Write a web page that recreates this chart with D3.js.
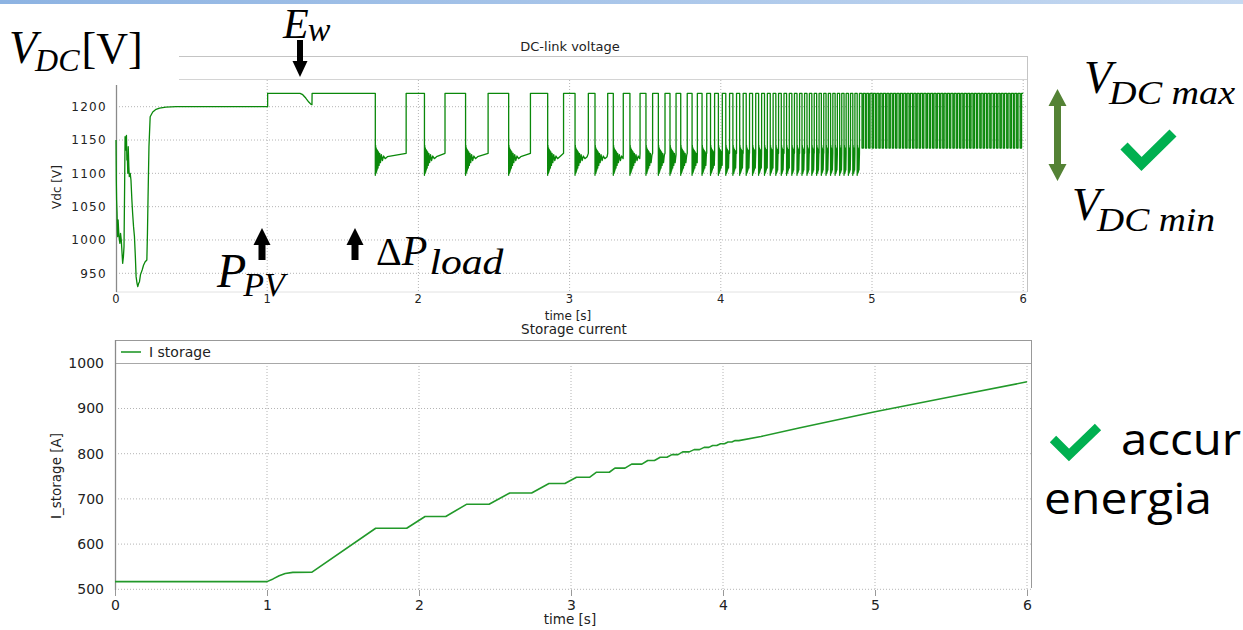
<!DOCTYPE html>
<html>
<head>
<meta charset="utf-8">
<script src="https://cdnjs.cloudflare.com/ajax/libs/d3/7.8.5/d3.min.js"></script>
<style>
body{margin:0;background:#fff;overflow:hidden}
svg{display:block}
</style>
</head>
<body>
<div id="slide"></div>
<script>
// tick values
var timeTicks = [0,1,2,3,4,5,6]
var vdcTicks = [950,1000,1050,1100,1150,1200]
var currentTicks = [500,600,700,800,900,1000]

// DC-link voltage, start-up and E_w sag, [t s, V]
var vdcStart = [[0,1150],[0.002,1090],[0.004,1060],[0.007,1040],[0.009,1015],[0.011,1005],[0.014,1030],[0.018,1012],[0.022,1000],[0.026,995],[0.030,1010],[0.035,1000],[0.040,980],[0.044,965],[0.049,975],[0.053,990],[0.057,1080],[0.060,1155],[0.064,1135],[0.069,1157],[0.072,1120],[0.075,1125],[0.078,1100],[0.081,1140],[0.085,1110],[0.088,1095],[0.094,1100],[0.099,1090],[0.105,1060],[0.110,1040],[0.116,1020],[0.122,1005],[0.128,975],[0.133,945],[0.139,935],[0.144,930],[0.150,935],[0.155,937],[0.162,948],[0.173,955],[0.182,962],[0.192,967],[0.204,970],[0.208,1010],[0.212,1065],[0.218,1140],[0.226,1185],[0.243,1192],[0.265,1196],[0.288,1198],[0.330,1199.5],[0.398,1200],[1.003,1200],[1.003,1220],[1.217,1220],[1.235,1218],[1.255,1213],[1.275,1207],[1.290,1203.5],[1.296,1203],[1.297,1220]]
// start / end of each low-voltage interval (s)
var lowStarts = [1.715,2.040,2.312,2.597,2.855,3.036,3.168,3.289,3.399,3.505,3.587,3.664,3.735,3.810,3.876,3.932,3.984,4.033,4.080,4.125,4.168,4.210,4.250,4.289,4.327,4.364,4.400,4.435,4.470,4.504,4.537,4.570,4.602,4.634,4.665,4.696,4.726,4.756,4.786,4.815,4.844,4.873,4.902]
var lowEnds = [1.919,2.176,2.461,2.741,2.960,3.124,3.252,3.355,3.466,3.549,3.631,3.704,3.778,3.845,3.907,3.959,4.010,4.058,4.104,4.148,4.190,4.231,4.270,4.308,4.346,4.382,4.418,4.453,4.487,4.521,4.554,4.586,4.618,4.650,4.681,4.711,4.741,4.771,4.800,4.829,4.858,4.887,4.917]
// ringing after each drop, [dt s, V]
var dipShape = [[0,1097],[0.002,1142],[0.004,1100],[0.006,1138],[0.008,1102],[0.010,1136],[0.012,1105],[0.015,1134],[0.018,1108],[0.021,1132],[0.025,1112],[0.029,1130],[0.034,1116],[0.040,1128],[0.047,1119],[0.055,1126],[0.065,1122],[0.080,1125]]
var vdcHigh = 1220
var lowSettle = 1130
// after ~4.93 s the lows stay at ~1138 V
var lateLowStarts = [4.934,4.956,4.978,5.001,5.023,5.045,5.067,5.090,5.112,5.134,5.156,5.179,5.201,5.223,5.245,5.268,5.290,5.312,5.334,5.357,5.379,5.401,5.423,5.446,5.468,5.490,5.512,5.535,5.557,5.579,5.601,5.624,5.646,5.668,5.690,5.713,5.735,5.757,5.779,5.802,5.824,5.846,5.868,5.891,5.913,5.935,5.957,5.980]
var lateLowLevel = 1138
var lateLowWidth = 0.009

// storage current [t s, A]
var currentStart = [[0,517],[1.0,517],[1.04,523],[1.08,530],[1.12,535],[1.17,537.5],[1.296,538]]
// current level held during the first low intervals
var currentLevels = [635,661,688,713,734,748,759,768,777,785,792,798,804,809,814,818,822,826,829]
var currentTail = [[4.25,838],[4.5,857],[5.0,893],[5.5,926],[6.0,959]]

var svg = d3.select('#slide').append('svg').attr('width',1243).attr('height',630)

class scope {
  constructor(svg, o){
    this.svg = svg
    this.o = o
    this.x = d3.scaleLinear().domain([0,6]).range([o.x0, o.x6])
    this.y = d3.scaleLinear().domain(o.ydom).range(o.yrange)
  }
  grid(){
    var g = this.svg.append('g')
    var o = this.o
    g.selectAll('.hg').data(o.yticks).enter().append('line')
          .attr('x1',o.left).attr('x2',o.right)
          .attr('y1',d => this.y(d)).attr('y2',d => this.y(d))
          .attr('stroke','#b4b4b4').attr('stroke-dasharray','1,2')
    g.selectAll('.vg').data(timeTicks.slice(1)).enter().append('line')
          .attr('x1',d => this.x(d)).attr('x2',d => this.x(d))
          .attr('y1',o.gridTop).attr('y2',o.bottom)
          .attr('stroke','#b4b4b4').attr('stroke-dasharray','1,2')
  }
  axes(){
    var o = this.o
    var ya = this.svg.append('g').attr('transform','translate('+o.left+',0)')
          .call(d3.axisLeft(this.y).tickValues(o.yticks).tickFormat(d3.format('d')).tickSize(0).tickPadding(o.ypad))
    ya.select('.domain').remove()
    ya.selectAll('text').attr('font-family','DejaVu Sans').attr('font-size',o.fs)
          .attr('letter-spacing',o.ls).attr('fill','#222')
    var xa = this.svg.append('g').attr('transform','translate(0,'+o.bottom+')')
          .call(d3.axisBottom(this.x).tickValues(timeTicks).tickFormat(d3.format('d')).tickSize(o.xtick).tickPadding(o.xpad))
    xa.select('.domain').remove()
    xa.selectAll('line').attr('stroke','#999')
    xa.selectAll('text').attr('font-family','DejaVu Sans').attr('font-size',o.xfs)
          .attr('letter-spacing',o.ls).attr('fill','#222')
  }
  line(pts, color, w){
    var path = d3.line().x(d => this.x(d[0])).y(d => this.y(d[1]))
    this.svg.append('path').datum(pts)
          .attr('d',path).attr('fill','none')
          .attr('stroke',color).attr('stroke-width',w).attr('stroke-linejoin','round')
  }
}

// top bar
var grad = svg.append('defs').append('linearGradient').attr('id','bar')
grad.append('stop').attr('offset','0%').attr('stop-color','#8db3e2')
grad.append('stop').attr('offset','100%').attr('stop-color','#c6d9f1')
svg.append('rect').attr('x',0).attr('y',0).attr('width',1243).attr('height',4).attr('fill','url(#bar)')

// ---------- DC-link voltage ----------
var top1 = new scope(svg, {x0:116, x6:1023.2, ydom:[950,1200], yrange:[273.3,106.7],
    left:116, right:1027, gridTop:80, bottom:292, yticks:vdcTicks,
    fs:'12px', xfs:'11.5px', ls:'1.3px', ypad:9, xtick:0, xpad:3})
top1.grid()
svg.append('line').attr('x1',179).attr('x2',1027).attr('y1',56.5).attr('y2',56.5).attr('stroke','#c4c4c4')
svg.append('line').attr('x1',179).attr('x2',1027).attr('y1',79.5).attr('y2',79.5).attr('stroke','#d4d4d4')
svg.append('line').attr('x1',1027.5).attr('x2',1027.5).attr('y1',56).attr('y2',292).attr('stroke','#c4c4c4')
svg.append('line').attr('x1',116).attr('x2',1027).attr('y1',292).attr('y2',292).attr('stroke','#e2e2e2')
svg.append('line').attr('x1',116.5).attr('x2',116.5).attr('y1',85).attr('y2',292).attr('stroke','#8a8a8a').attr('stroke-width',1.3)
top1.axes()

var vdc = vdcStart.slice()
lowStarts.forEach((s,k) => {
  vdc.push([s, vdcHigh])
  dipShape.forEach(d => { if (d[0] < lowEnds[k]-s) vdc.push([s+d[0], d[1]]) })
  vdc.push([lowEnds[k], lowSettle])
  vdc.push([lowEnds[k], vdcHigh])
})
lateLowStarts.forEach(s => {
  vdc.push([s, vdcHigh],[s, lateLowLevel],[s+lateLowWidth, lateLowLevel],[s+lateLowWidth, vdcHigh])
})
vdc.push([6.0, vdcHigh])
top1.line(vdc, '#0a880a', 1.3)

svg.append('text').attr('x',570).attr('y',51).attr('text-anchor','middle')
      .attr('font-family','DejaVu Sans').attr('font-size','13px').attr('fill','#222').text('DC-link voltage')
svg.append('text').attr('x',568).attr('y',320).attr('text-anchor','middle')
      .attr('font-family','DejaVu Sans').attr('font-size','12px').attr('fill','#222').text('time [s]')
svg.append('text').attr('transform','translate(61,187) rotate(-90)').attr('text-anchor','middle')
      .attr('font-family','DejaVu Sans').attr('font-size','12px').attr('fill','#222').text('Vdc [V]')

// ---------- Storage current ----------
var bot = new scope(svg, {x0:115, x6:1027, ydom:[500,1000], yrange:[589.3,363.3],
    left:115, right:1031, gridTop:363, bottom:590, yticks:currentTicks.slice(0,5),
    fs:'14px', xfs:'14px', ls:'0px', ypad:11, xtick:6, xpad:4})
bot.grid()
svg.append('line').attr('x1',115).attr('x2',1032).attr('y1',340.5).attr('y2',340.5).attr('stroke','#999')
svg.append('line').attr('x1',115).attr('x2',1031).attr('y1',363.5).attr('y2',363.5).attr('stroke','#a8a8a8')
svg.append('line').attr('x1',1031.5).attr('x2',1031.5).attr('y1',340).attr('y2',588).attr('stroke','#999')
svg.append('line').attr('x1',115.5).attr('x2',115.5).attr('y1',340).attr('y2',590).attr('stroke','#8a8a8a').attr('stroke-width',1.3)
bot.axes()
svg.append('text').attr('x',104).attr('y',bot.y(1000)+5).attr('text-anchor','end')
      .attr('font-family','DejaVu Sans').attr('font-size','14px').attr('fill','#222').text(currentTicks[5])

var cur = currentStart.slice()
currentLevels.forEach((lv,k) => { cur.push([lowStarts[k], lv],[lowEnds[k], lv]) })
currentTail.forEach(d => cur.push(d))
bot.line(cur, '#22992a', 1.6)

svg.append('line').attr('x1',121).attr('x2',141).attr('y1',352).attr('y2',352).attr('stroke','#22992a').attr('stroke-width',1.6)
svg.append('text').attr('x',149).attr('y',357).attr('font-family','DejaVu Sans').attr('font-size','14px')
      .attr('fill','#222').text('I storage')
svg.append('text').attr('x',574).attr('y',334).attr('text-anchor','middle')
      .attr('font-family','DejaVu Sans').attr('font-size','13.5px').attr('fill','#222').text('Storage current')
svg.append('text').attr('x',570).attr('y',624).attr('text-anchor','middle')
      .attr('font-family','DejaVu Sans').attr('font-size','13.5px').attr('fill','#222').text('time [s]')
svg.append('text').attr('transform','translate(61,476) rotate(-90)').attr('text-anchor','middle')
      .attr('font-family','DejaVu Sans').attr('font-size','13.5px').attr('fill','#222').text('I_storage [A]')

// ---------- annotations ----------
var serif = 'Liberation Serif'
function mathText(x, y, parts){
  var t = svg.append('text').attr('x',x).attr('y',y).attr('font-family',serif).attr('fill','#000')
  parts.forEach(p => {
    var s = t.append('tspan').attr('font-size',p.fs+'px').attr('font-style',p.it ? 'italic' : 'normal')
          .attr('dy',p.dy || 0).attr('dx',p.dx || 0).text(p.s)
    if (p.len) s.attr('textLength',p.len).attr('lengthAdjust','spacingAndGlyphs')
  })
}
mathText(9, 63, [{s:'V',fs:46,it:1},{s:'DC',fs:32,it:1,dy:8,dx:-2},{s:'[V]',fs:44,dy:-8,dx:2}])
mathText(283, 38, [{s:'E',fs:42,it:1},{s:'w',fs:34,it:1,dy:3,dx:-1}])
mathText(217, 287, [{s:'P',fs:48,it:1},{s:'PV',fs:34,it:1,dy:9,dx:-3}])
mathText(376, 265, [{s:'\u0394',fs:40},{s:'P',fs:42,it:1},{s:'load',fs:36,it:1,dy:9,dx:2,len:74}])
mathText(1084, 93, [{s:'V',fs:46,it:1},{s:'DC max',fs:33,it:1,dy:11,dx:-3,len:126}])
mathText(1072, 220, [{s:'V',fs:46,it:1},{s:'DC min',fs:33,it:1,dy:11,dx:-3,len:118}])

function arrow(x, tip, end, hw, hh, sw, color){
  var dir = end > tip ? 1 : -1
  var p = [[x, tip],[x+hw/2, tip+dir*hh],[x+sw/2, tip+dir*hh],[x+sw/2, end],[x-sw/2, end],[x-sw/2, tip+dir*hh],[x-hw/2, tip+dir*hh]]
  svg.append('polygon').attr('points',p.map(d => d.join(',')).join(' ')).attr('fill',color)
}
arrow(300, 77, 40, 15, 16, 6, '#000')
arrow(262, 228, 260, 17, 17, 7, '#000')
arrow(355, 228, 260, 17, 17, 7, '#000')
// double arrow V_DC range
arrow(1057.5, 89, 136, 18, 17, 7, '#548235')
arrow(1057.5, 181, 134, 18, 17, 7, '#548235')

function check(pts, w){
  svg.append('polyline').attr('points',pts.map(d => d.join(',')).join(' '))
        .attr('fill','none').attr('stroke','#00b050').attr('stroke-width',w).attr('stroke-linejoin','miter')
}
check([[1124,146],[1141.5,164],[1173,133]], 10)
check([[1053,439],[1069,455],[1098,427]], 9)

svg.append('text').attr('x',1121).attr('y',455).attr('font-family','Open Sans').attr('font-size','44px')
      .attr('textLength',120).attr('lengthAdjust','spacingAndGlyphs').attr('fill','#000').text('accur')
svg.append('text').attr('x',1044).attr('y',514).attr('font-family','Open Sans').attr('font-size','44px')
      .attr('textLength',168).attr('lengthAdjust','spacingAndGlyphs').attr('fill','#000').text('energia')
</script>
</body>
</html>
